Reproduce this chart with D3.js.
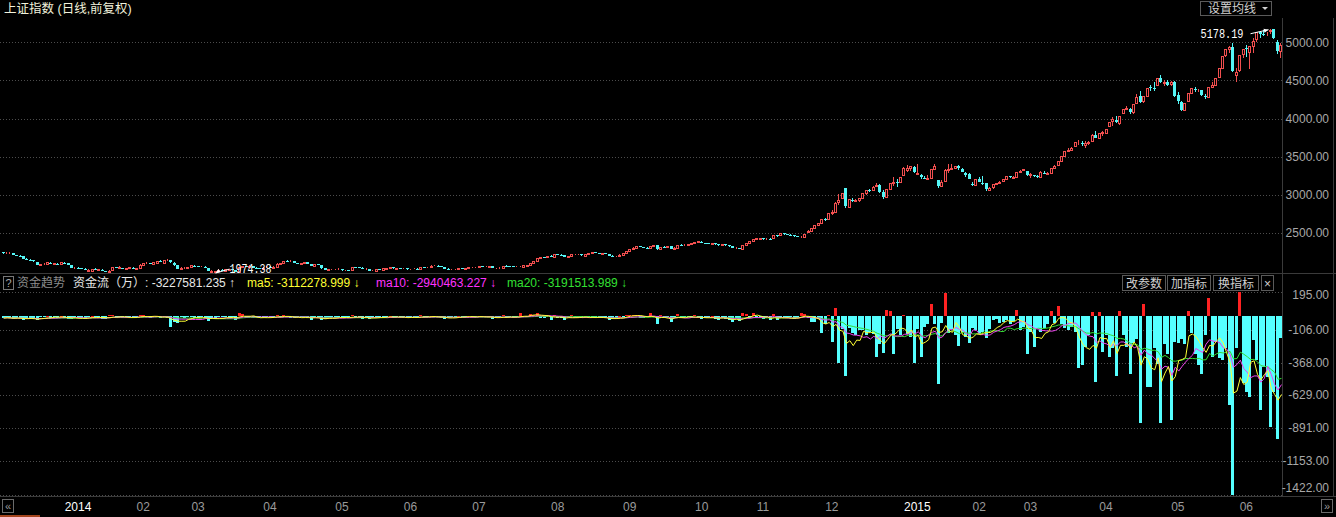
<!DOCTYPE html>
<html><head><meta charset="utf-8">
<script src="https://cdn.jsdelivr.net/npm/d3@7"></script>
<style>body{margin:0;background:#000;overflow:hidden}svg{display:block}</style>
</head><body>
<script>
// ---------- DATA ----------
const monthLabels = ["", "2014","02","03","04","05","06","07","08","09","10","11","12","2015","02","03","04","05","06"];
const monthDays   = [18,21,16,21,21,20,20,23,21,21,18,20,23,20,15,22,21,20,13];
const priceTicks  = [5000,4500,4000,3500,3000,2500];
const flowTicks   = [195,-106,-368,-629,-891,-1153,-1422];

const opens = [
2245,2236,2237,2234,2208,2203,2193,2160,2150,2143,2124,2082,2090,2092,2113,2091,2100,2097,
2112,2101,2079,2041,2047,2041,2027,2006,2006,2025,2018,2020,2001,1988,2010,2050,2038,2044,2028,2040,2046,
2029,2043,2087,2101,2108,2098,2113,2136,2113,2140,2140,2110,2075,2031,2038,2045,
2049,2072,2068,2052,2060,2045,1995,1995,1996,2020,2000,2020,2024,2015,1992,2049,2066,2060,2068,2047,2043,
2032,2048,2058,2045,2060,2099,2105,2132,2129,2127,2104,2097,2105,2114,2096,2062,2093,2080,2036,2017,2024,
2023,2024,2026,2009,2014,2020,2053,2049,2046,2025,2025,2003,2008,2026,2020,2034,2041,2050,2034,2040,
2036,2037,2023,2028,2030,2027,2052,2050,2055,2069,2070,2066,2055,2030,2022,2023,2026,2039,2034,2038,
2048,2050,2054,2063,2058,2060,2064,2036,2037,2046,2070,2066,2063,2054,2058,2060,2073,2080,2110,2130,2178,2184,2180,
2203,2186,2223,2218,2215,2187,2196,2221,2222,2225,2205,2228,2240,2245,2240,2231,2240,2227,2200,2193,2196,
2218,2235,2267,2288,2306,2326,2318,2306,2303,2331,2341,2290,2316,2314,2327,2289,2308,2345,2342,2346,2357,
2368,2382,2388,2370,2364,2358,2370,2354,2338,2356,2338,2325,2300,2300,2290,2337,2373,2392,
2420,2426,2430,2418,2424,2430,2472,2468,2496,2484,2477,2472,2455,2449,2451,2515,2532,2567,2604,2632,
2682,2684,2764,2780,2908,2960,3091,2844,2934,2919,2933,2954,3020,3061,3060,3118,3127,3032,2975,3076,3157,3168,3167,
3258,3330,3352,3371,3276,3258,3227,3209,3225,3343,3189,3114,3183,3327,3343,3354,3382,3345,3290,3273,
3148,3130,3212,3162,3150,3063,3098,3146,3157,3181,3208,3249,3223,3228,3299,
3332,3317,3264,3264,3246,3239,3293,3276,3290,3353,3391,3450,3503,3578,3582,3636,3688,3680,3653,3686,3710,3791,
3748,3814,3816,3899,3967,3985,3947,4072,4131,4124,4084,4206,4296,4228,4301,4417,4406,4441,4527,4461,4480,
4447,4480,4304,4222,4108,4234,4336,4393,4369,4377,4302,4285,4418,4446,4542,4661,4828,4908,4943,4570,
4633,4844,4924,4868,4950,5045,5134,5114,5117,5144,5174,5004,4890];

const highs = [
2250,2246,2248,2238,2213,2210,2196,2167,2159,2148,2126,2098,2102,2117,2119,2106,2110,2119,
2114,2102,2080,2053,2057,2045,2036,2022,2029,2036,2031,2024,2005,2012,2053,2058,2061,2047,2046,2058,2048,
2046,2088,2107,2114,2112,2118,2138,2143,2150,2158,2144,2114,2077,2048,2054,2059,
2078,2080,2072,2066,2067,2047,2011,2008,2024,2028,2027,2033,2030,2018,2050,2070,2069,2074,2072,2052,2045,
2050,2063,2062,2062,2102,2113,2137,2146,2141,2129,2112,2111,2124,2117,2098,2097,2098,2083,2040,2031,2034,
2032,2036,2029,2019,2020,2055,2060,2055,2049,2035,2027,2014,2028,2032,2038,2046,2055,2054,2045,2046,
2044,2040,2034,2036,2035,2056,2058,2060,2075,2076,2074,2068,2057,2035,2030,2030,2042,2042,2043,2051,
2054,2057,2066,2067,2064,2068,2066,2043,2050,2072,2075,2070,2066,2062,2064,2078,2079,2110,2131,2178,2186,2190,2203,
2210,2225,2228,2224,2218,2198,2226,2230,2230,2228,2228,2244,2248,2250,2244,2242,2243,2230,2207,2201,2219,
2238,2268,2292,2312,2328,2333,2322,2314,2333,2348,2344,2318,2326,2334,2330,2313,2347,2354,2352,2360,2368,
2386,2392,2391,2374,2368,2375,2374,2358,2359,2361,2342,2328,2310,2305,2338,2374,2394,2423,
2433,2436,2434,2430,2429,2475,2478,2496,2501,2490,2484,2474,2458,2456,2490,2540,2569,2605,2633,2683,
2700,2765,2808,2900,3017,3022,3091,2942,2960,2950,2955,3022,3068,3080,3113,3157,3139,3064,3074,3158,3239,3210,3239,
3369,3394,3374,3373,3404,3276,3246,3263,3336,3400,3192,3191,3337,3406,3406,3384,3390,3350,3300,3289,
3173,3205,3238,3244,3155,3100,3143,3160,3178,3208,3252,3253,3244,3301,3325,
3344,3317,3286,3266,3265,3310,3311,3302,3355,3393,3450,3504,3578,3618,3633,3690,3715,3700,3700,3709,3795,3836,
3817,3835,3865,3961,4016,4030,4034,4129,4168,4134,4194,4317,4356,4294,4400,4444,4474,4529,4572,4500,4506,
4489,4488,4346,4235,4205,4333,4402,4415,4393,4378,4320,4420,4476,4530,4658,4814,4911,4958,4986,4668,
4829,4911,4959,4955,5052,5131,5148,5164,5138,5178.19,5176,5030,4985];

const lows = [
2230,2230,2228,2206,2198,2190,2158,2146,2138,2122,2082,2075,2083,2088,2090,2086,2093,2094,
2101,2080,2042,2034,2036,2024,2009,2001,2001,2018,2012,2002,1984,1985,2008,2035,2030,2028,2026,2036,2030,
2026,2042,2080,2095,2095,2094,2110,2115,2110,2135,2110,2073,2030,2026,2033,2036,
2045,2065,2050,2049,2053,1996,1985,1974.38,1991,2002,1996,2016,2016,1985,1990,2045,2055,2056,2043,2037,2028,
2030,2044,2040,2038,2058,2094,2101,2124,2122,2103,2095,2093,2100,2095,2062,2058,2080,2033,2015,2010,2018,
2017,2019,2006,2001,2002,2018,2045,2041,2022,2019,2002,1999,2004,2016,2017,2030,2037,2032,2030,2033,
2030,2020,2019,2023,2022,2024,2046,2046,2052,2064,2063,2053,2030,2020,2016,2018,2023,2032,2030,2035,
2041,2044,2050,2056,2052,2056,2036,2030,2032,2043,2062,2058,2052,2050,2053,2056,2068,2075,2103,2126,2168,2175,2175,
2180,2184,2213,2208,2186,2180,2192,2212,2215,2203,2200,2223,2234,2236,2228,2226,2226,2198,2188,2185,2192,
2212,2232,2263,2283,2302,2310,2300,2294,2298,2323,2283,2282,2303,2308,2288,2285,2303,2330,2334,2340,2350,
2362,2376,2370,2358,2352,2355,2348,2329,2334,2335,2322,2298,2292,2286,2286,2334,2365,2390,
2412,2418,2410,2412,2410,2428,2452,2460,2476,2470,2460,2454,2442,2440,2448,2505,2525,2560,2598,2628,
2652,2675,2734,2772,2862,2940,2834,2836,2900,2900,2910,2950,3000,3040,3050,3100,3026,2940,2972,3066,3122,3100,3158,
3253,3303,3312,3285,3267,3205,3210,3193,3218,3341,3095,3101,3178,3293,3327,3333,3327,3296,3235,3209,
3122,3118,3170,3123,3050,3049,3080,3135,3148,3168,3205,3220,3211,3228,3284,
3312,3253,3224,3234,3223,3229,3279,3265,3287,3350,3386,3450,3500,3561,3575,3628,3657,3643,3620,3660,3710,3744,
3742,3772,3792,3899,3906,3944,3921,4060,4108,4061,4063,4206,4198,4198,4290,4358,4358,4436,4463,4432,4430,
4432,4286,4190,4097,4099,4228,4323,4355,4345,4298,4260,4281,4408,4436,4540,4646,4802,4862,4614,4474,
4615,4797,4811,4647,4856,5002,5050,5085,5083,5103,5048,4842,4797];

const closes = [
2238,2238,2238,2210,2204,2196,2161,2151,2144,2127,2085,2089,2094,2115,2093,2101,2098,2116,
2109,2083,2046,2047,2044,2028,2013,2010,2027,2023,2023,2005,1991,2008,2052,2042,2054,2033,2039,2050,2033,
2044,2086,2104,2110,2100,2116,2136,2118,2143,2142,2114,2077,2034,2041,2047,2056,
2075,2071,2053,2060,2058,1999,2001,1998,2019,2004,2024,2025,2022,1993,2048,2066,2064,2067,2047,2042,2033,
2047,2059,2044,2059,2099,2105,2134,2131,2132,2106,2102,2104,2116,2098,2066,2094,2084,2037,2020,2025,2026,
2027,2028,2010,2015,2011,2053,2051,2048,2026,2027,2005,2008,2025,2021,2035,2041,2050,2035,2041,2039,
2038,2024,2030,2030,2027,2053,2051,2056,2071,2071,2067,2056,2033,2024,2024,2026,2039,2035,2039,2048,
2050,2054,2063,2059,2060,2065,2039,2038,2046,2070,2067,2064,2055,2059,2060,2075,2075,2109,2127,2177,2183,2182,2201,
2185,2223,2220,2217,2188,2194,2224,2223,2225,2207,2226,2240,2245,2240,2233,2240,2229,2201,2195,2196,2217,
2235,2266,2288,2306,2326,2319,2308,2304,2331,2343,2291,2316,2315,2329,2290,2308,2345,2343,2347,2357,2364,
2382,2389,2374,2366,2359,2373,2356,2341,2357,2339,2326,2302,2302,2290,2337,2373,2391,2420,
2430,2430,2419,2425,2418,2473,2469,2494,2485,2478,2474,2456,2450,2452,2487,2532,2567,2604,2630,2683,
2680,2763,2779,2899,2937,3020,2856,2940,2925,2938,2953,3021,3061,3057,3108,3128,3032,2977,3072,3157,3168,3165,3235,
3351,3352,3373,3294,3285,3229,3223,3222,3336,3376,3116,3173,3323,3343,3351,3383,3353,3305,3262,3210,
3128,3204,3174,3136,3076,3095,3141,3157,3173,3203,3247,3228,3229,3298,3310,
3336,3263,3280,3248,3241,3302,3286,3290,3349,3373,3449,3503,3577,3582,3617,3687,3691,3661,3683,3691,3786,3748,
3811,3826,3864,3961,3995,3957,4034,4122,4135,4084,4194,4287,4217,4293,4398,4414,4394,4527,4476,4476,4442,
4480,4299,4229,4112,4205,4333,4401,4376,4379,4308,4284,4418,4446,4530,4658,4814,4910,4942,4620,4612,
4829,4910,4910,4948,5023,5131,5114,5106,5121,5166,5062,4887,4967];

// 资金流 (daily money flow)
const flows = [
-12,-8,-15,-20,-10,-14,-25,-18,-10,-22,-30,-8,-6,5,-12,-6,-10,4,
-10,-18,-22,-8,-12,-15,-20,-6,5,-8,-10,-18,-20,8,15,-12,-6,-14,-5,-4,-10,
-6,10,8,-5,-10,4,6,-15,-8,-12,-80,-40,-50,-8,-10,-6,
-8,-12,-15,-6,-10,-35,-12,-20,-6,-8,-4,-10,-6,-25,30,20,-10,-5,-12,-15,-8,
-5,-8,-10,-4,12,-6,10,-8,-10,-15,-8,-6,-4,-12,-25,-5,-10,-30,-20,-8,-6,
-6,-8,-15,-6,-8,10,-10,-8,-20,-6,-18,-5,-4,-10,-4,-5,6,-12,-6,-8,
-8,-12,-5,-6,-10,10,-8,-4,6,-5,-8,-10,-22,-12,-6,-4,5,-8,-5,4,
-4,-5,5,-8,-6,-4,-20,-8,-6,8,-10,-6,-12,-5,25,6,-4,20,15,30,-10,-15,8,
-25,15,-12,-10,-30,-8,10,-10,-6,-15,-5,-4,-6,-12,-10,-8,-15,-30,-20,-10,5,
-6,10,12,8,15,-10,-15,-8,25,-6,-60,10,-8,-5,-40,-10,20,-12,-6,-8,-10,
8,-10,-20,-15,-12,6,-18,-25,-6,-20,-30,-40,-15,-35,25,20,-10,30,
-10,-15,-20,-8,-25,20,-30,-10,-12,-15,-8,-20,-10,30,20,-15,-45,-40,-20,-134,
-60,15,-200,65,-368,-100,-472,-90,-130,-150,-110,-110,-150,-120,-140,-320,-220,-290,50,40,-300,-100,-150,
15,-140,-160,-368,-100,-320,-80,-60,100,-60,-538,-50,190,-130,-100,-150,-235,-120,-160,-215,
-90,-110,-140,-120,-170,-100,-30,-20,-50,-40,-25,-60,-35,55,-110,
-80,-295,-120,-240,-100,-120,-90,-60,45,-50,85,-60,-90,-110,-80,-120,-413,-385,-240,-150,35,-520,
35,-280,-150,-320,-250,-475,45,-150,-240,-455,-215,-180,-851,100,-560,-560,-250,-375,-850,-220,-300,
-825,-200,-210,-180,-220,40,-130,-300,-390,-460,-150,145,-320,-200,-330,-345,-250,-705,-1422,-250,
195,-530,-600,-640,-190,-345,-745,-400,-480,-880,-600,-975,-170];

const headerSegs = [
  {t:"资金趋势", x:17, c:"#8c8c8c"},
  {t:"资金流（万）: -3227581.235 ↑", x:73, c:"#e8e8e8"},
  {t:"ma5: -3112278.999 ↓", x:247, c:"#ffff33"},
  {t:"ma10: -2940463.227 ↓", x:376, c:"#ff33ff"},
  {t:"ma20: -3191513.989 ↓", x:507, c:"#33e033"}
];
const buttons = [{t:"改参数",x0:1122,x1:1165},{t:"加指标",x0:1167,x1:1210},{t:"换指标",x0:1213,x1:1258},{t:"×",x0:1261,x1:1273}];

// ---------- CHART ----------
const W = 1336, H = 517;
const FONT = "'Liberation Sans','Noto Sans CJK SC',sans-serif";
const UP = "#f24f4f", DOWN = "#54f6f6";
const svg = d3.select("body").append("svg").attr("width", W).attr("height", H)
  .style("background", "#000").style("font-family", FONT);

const N = closes.length;
const x = d3.scaleBand().domain(d3.range(N)).range([2, 1283.2]).padding(0);
const yP = d3.scaleLinear().domain([2500, 5000]).range([233, 42.3]);
const yF = d3.scaleLinear().domain([-1422, 195]).range([495, 292]);
const px = i => Math.floor(x(i));

// frame lines
const frame = svg.append("g").attr("stroke", "#3a3a3a").attr("shape-rendering", "crispEdges");
frame.append("line").attr("x1", 0).attr("x2", W).attr("y1", 273.5).attr("y2", 273.5);
frame.append("line").attr("x1", 0).attr("x2", W).attr("y1", 496.5).attr("y2", 496.5);
frame.append("line").attr("x1", 1282.5).attr("x2", 1282.5).attr("y1", 18).attr("y2", 496);
frame.append("line").attr("x1", 1333.5).attr("x2", 1333.5).attr("y1", 18).attr("y2", 496);

// dotted grids
const grid = svg.append("g").attr("stroke", "#4c4c4c").attr("stroke-dasharray", "1,2").attr("shape-rendering", "crispEdges");
grid.selectAll(".gp").data(priceTicks).join("line").attr("x1", 0).attr("x2", 1282)
  .attr("y1", d => Math.round(yP(d)) + 0.5).attr("y2", d => Math.round(yP(d)) + 0.5);
grid.selectAll(".gf").data(flowTicks).join("line").attr("x1", 0).attr("x2", 1282)
  .attr("y1", d => Math.round(yF(d)) + 0.5).attr("y2", d => Math.round(yF(d)) + 0.5);

// right axes
const axP = svg.append("g").attr("transform", "translate(1329,0)")
  .call(d3.axisLeft(yP).tickValues(priceTicks).tickFormat(d => d.toFixed(2)).tickSize(0).tickPadding(0));
const axF = svg.append("g").attr("transform", "translate(1329,0)")
  .call(d3.axisLeft(yF).tickValues(flowTicks).tickFormat(d => d.toFixed(2)).tickSize(0).tickPadding(0));
[axP, axF].forEach(a => {
  a.select(".domain").remove();
  a.selectAll("text").attr("fill", "#a8a8a8").style("font-size", "12px").style("font-family", FONT);
});
axF.selectAll(".tick").attr("transform", d => `translate(0,${Math.max(295, Math.min(488, yF(d)))})`);

// candles
const gC = svg.append("g").attr("shape-rendering", "crispEdges");
const idx = d3.range(N);
gC.selectAll("line").data(idx).join("line")
  .attr("x1", i => px(i) + 1.5).attr("x2", i => px(i) + 1.5)
  .attr("y1", i => yP(highs[i])).attr("y2", i => yP(lows[i]))
  .attr("stroke", i => closes[i] >= opens[i] ? UP : DOWN);
gC.selectAll("rect").data(idx).join("rect")
  .each(function(i) {
    const up = closes[i] >= opens[i];
    const yt = Math.round(yP(Math.max(opens[i], closes[i])));
    const yb = Math.round(yP(Math.min(opens[i], closes[i])));
    const r = d3.select(this);
    if (up) r.attr("x", px(i) + 0.5).attr("y", yt + 0.5).attr("width", 2).attr("height", Math.max(0, yb - yt))
             .attr("fill", "#000").attr("stroke", UP);
    else r.attr("x", px(i)).attr("y", yt).attr("width", 3).attr("height", Math.max(1, yb - yt)).attr("fill", DOWN);
  });

// high / low annotations
const iHi = d3.maxIndex(highs), iLo = d3.minIndex(lows);
const ann = svg.append("g").attr("fill", "#fff").style("font-family", "'Liberation Mono',monospace").style("font-size", "12px");
{
  const hx = px(iHi) + 1.5, hy = yP(highs[iHi]);
  ann.append("line").attr("x1", hx - 2).attr("y1", hy + 1).attr("x2", hx - 20).attr("y2", hy + 5).attr("stroke", "#fff");
  ann.append("path").attr("d", `M${hx-2},${hy+1}l-5,-1l1,4z`);
  ann.append("text").attr("x", hx - 27).attr("y", hy + 9).attr("text-anchor", "end")
    .attr("textLength", 43).attr("lengthAdjust", "spacingAndGlyphs").text(highs[iHi].toFixed(2));
  const lx = px(iLo) + 1.5, ly = yP(lows[iLo]);
  ann.append("line").attr("x1", lx).attr("y1", ly).attr("x2", lx + 14).attr("y2", ly - 4).attr("stroke", "#fff");
  ann.append("path").attr("d", `M${lx},${ly}l5,-1l-2,-3z`);
  ann.append("text").attr("x", lx + 14).attr("y", ly).attr("textLength", 42).attr("lengthAdjust", "spacingAndGlyphs")
    .text(lows[iLo].toFixed(2));
}

// flow bars
const y0 = yF(0);
svg.append("g").attr("shape-rendering", "crispEdges").selectAll("rect").data(flows).join("rect")
  .attr("x", (d, i) => px(i)).attr("width", 3)
  .attr("y", d => d >= 0 ? yF(d) : y0).attr("height", d => Math.max(1, Math.abs(yF(d) - y0)))
  .attr("fill", d => d >= 0 ? "#ff2222" : "#55ffff");

// moving averages of flow
const ma = n => flows.map((d, i) => d3.mean(flows.slice(Math.max(0, i - n + 1), i + 1)));
const line = d3.line().x((d, i) => x(i) + x.bandwidth() / 2).y(d => yF(d));
[[20, "#33dd33"], [10, "#ee44ee"], [5, "#ffff33"]].forEach(([n, c]) => {
  svg.append("path").datum(ma(n)).attr("d", line).attr("fill", "none").attr("stroke", c).attr("stroke-width", 1);
});

// bottom axis
const starts = d3.cumsum([0, ...monthDays]).slice(0, monthDays.length);
const labIdx = d3.range(1, monthLabels.length);
const axB = svg.append("g").attr("transform", "translate(0,497)")
  .call(d3.axisBottom(x).tickValues(labIdx.map(k => starts[k])).tickFormat((d, k) => monthLabels[labIdx[k]]).tickSize(0).tickPadding(5));
axB.select(".domain").remove();
axB.selectAll("text").attr("text-anchor", "start").attr("x", -x.bandwidth() / 2 + 1)
  .style("font-size", "12px").style("font-family", FONT)
  .attr("fill", d => /^20/.test(monthLabels[starts.indexOf(d)]) ? "#ffffff" : "#9a9a9a");

// bottom nav boxes & scrollbar
const nav = svg.append("g").attr("shape-rendering", "crispEdges");
[[2.5, "«"], [1321.5, "»"]].forEach(([bx, t]) => {
  nav.append("rect").attr("x", bx).attr("y", 499.5).attr("width", 11).attr("height", 13).attr("fill", "none").attr("stroke", "#6a6a6a");
  svg.append("text").attr("x", bx + 5.5).attr("y", 510).attr("text-anchor", "middle").attr("fill", "#9a9a9a").style("font-size", "11px").text(t);
});
nav.append("rect").attr("x", 0).attr("y", 515).attr("width", 40).attr("height", 2).attr("fill", "#a4451e");

// title
svg.append("text").attr("x", 4).attr("y", 13).attr("fill", "#f2f2dc").style("font-size", "12.5px").text("上证指数 (日线,前复权)");

// 设置均线 button
nav.append("rect").attr("x", 1200.5).attr("y", 1.5).attr("width", 71).attr("height", 14).attr("fill", "none").attr("stroke", "#5a5a5a");
svg.append("text").attr("x", 1208).attr("y", 13).attr("fill", "#d2d2d2").style("font-size", "12px").text("设置均线");
svg.append("path").attr("d", "M1262,7h6l-3,3z").attr("fill", "#d2d2d2");

// lower panel header
nav.append("rect").attr("x", 3.5).attr("y", 276.5).attr("width", 10).attr("height", 13).attr("fill", "none").attr("stroke", "#777");
svg.append("text").attr("x", 8.5).attr("y", 287).attr("text-anchor", "middle").attr("fill", "#aaa").style("font-size", "11px").text("?");
svg.selectAll(".hdr").data(headerSegs).join("text").attr("x", d => d.x).attr("y", 287)
  .attr("fill", d => d.c).style("font-size", "12px").text(d => d.t);
buttons.forEach(b => {
  nav.append("rect").attr("x", b.x0 + 0.5).attr("y", 275.5).attr("width", b.x1 - b.x0).attr("height", 15).attr("fill", "none").attr("stroke", "#5a5a5a");
  svg.append("text").attr("x", (b.x0 + b.x1) / 2 + 0.5).attr("y", 288).attr("text-anchor", "middle")
    .attr("fill", "#cfcfcf").style("font-size", "12px").text(b.t);
});
</script>
</body></html>
